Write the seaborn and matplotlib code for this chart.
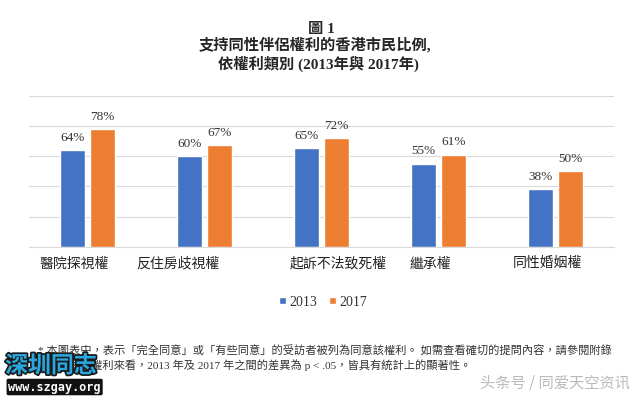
import pandas as pd
import numpy as np
import matplotlib.pyplot as plt
import matplotlib.transforms as mtransforms
import matplotlib.patheffects as pe
import seaborn as sns

# ---------------- data ----------------
categories = ["醫院探視權", "反住房歧視權", "起訴不法致死權", "繼承權", "同性婚姻權"]
years = ["2013", "2017"]
values_2013 = [64, 60, 65, 55, 38]
values_2017 = [78, 67, 72, 61, 50]
yticks = [0, 20, 40, 60, 80, 100]

title_lines = ["圖 1", "支持同性伴侶權利的香港市民比例,", "依權利類別 (2013年與 2017年)"]
note_lines = [
    "* 本圖表中，表示「完全同意」或「有些同意」的受訪者被列為同意該權利。 如需查看確切的提問內容，請參閱附錄",
    "A。就每項權利來看，2013 年及 2017 年之間的差異為 p < .05，皆具有統計上的顯著性。",
]

df = pd.DataFrame({
    "category": categories * 2,
    "year": [years[0]] * len(categories) + [years[1]] * len(categories),
    "value": values_2013 + values_2017,
})

colors = {"2013": "#4472C4", "2017": "#ED7D31"}
SERIF_CJK = ["Liberation Serif", "Noto Sans CJK TC"]
SANS_CJK = ["Noto Sans CJK TC", "DejaVu Sans"]

sns.set_style("white")
plt.rcParams["font.family"] = SANS_CJK

fig = plt.figure(figsize=(6.4, 3.98), dpi=100)
ax = fig.add_axes([0.0453, 0.380, 0.9137, 0.380])

sns.barplot(data=df, x="category", y="value", hue="year", palette=colors,
            width=0.513, gap=0.15, ax=ax, saturation=1, legend=True)

ax.set_ylim(0, 100)
ax.set_yticks(yticks)
ax.yaxis.grid(True, color="#D9D9D9", linewidth=0.8)
ax.set_axisbelow(True)
ax.tick_params(axis="y", left=False, labelleft=False)
ax.tick_params(axis="x", length=0, pad=7, labelsize=10, labelcolor="#222222")
for s in ["left", "right", "top"]:
    ax.spines[s].set_visible(False)
ax.spines["bottom"].set_color("#D9D9D9")
ax.set_xlabel("")
ax.set_ylabel("")

# category labels in the original sit a little off the group centres
label_shift_px = [-13, -26, 17, -8, -8]
for lab, dx in zip(ax.get_xticklabels(), label_shift_px):
    lab.set_transform(lab.get_transform() + mtransforms.ScaledTranslation(dx / 100, 0, fig.dpi_scale_trans))

for cont in ax.containers:
    ax.bar_label(cont, labels=[f"{v:.0f}%" for v in cont.datavalues], padding=4.5,
                 fontsize=9.5, family=SERIF_CJK, color="#333333")

leg = ax.legend(loc="center", bbox_to_anchor=(0.505, 0.241), bbox_transform=fig.transFigure,
                ncol=2, frameon=False, handlelength=0.45, handleheight=0.45,
                handletextpad=0.25, columnspacing=0.9, prop={"family": SERIF_CJK, "size": 10})
for t in leg.get_texts():
    t.set_color("#333333")

# title
fig.text(0.503, 0.925, title_lines[0], ha="center", va="center", fontsize=11, fontweight="bold", family=SERIF_CJK)
fig.text(0.492, 0.887, title_lines[1], ha="center", va="center", fontsize=11, fontweight="bold", family=SERIF_CJK)
fig.text(0.497, 0.839, title_lines[2], ha="center", va="center", fontsize=11, fontweight="bold", family=SERIF_CJK)

# footnote
fig.text(0.059, (398 - 351) / 398, note_lines[0], ha="left", va="center", fontsize=8.1, family=SERIF_CJK, color="#333333")
fig.text(0.059, (398 - 365) / 398, note_lines[1], ha="left", va="center", fontsize=8.1, family=SERIF_CJK, color="#333333")

# watermarks (drawn on top of the footnote, as in the source image)
fig.text(0.008, (398 - 366) / 398, "深圳同志", ha="left", va="center", fontsize=16.5, fontweight="bold",
         color="#29A8E0", family=SANS_CJK, zorder=5,
         path_effects=[pe.withStroke(linewidth=2.5, foreground="#1a1a1a")])
fig.text(0.013, (398 - 387) / 398, "www.szgay.org", ha="left", va="center", fontsize=8.5, fontweight="bold",
         color="white", family="DejaVu Sans Mono", zorder=5,
         bbox=dict(boxstyle="round,pad=0.15", fc="#111111", ec="none"))
fig.text(0.985, (398 - 383) / 398, "头条号 / 同爱天空资讯", ha="right", va="center", fontsize=11,
         color="#BBBBBB", family=["Noto Sans CJK SC", "DejaVu Sans"])

fig.savefig("out.png", dpi=100, facecolor="white")
